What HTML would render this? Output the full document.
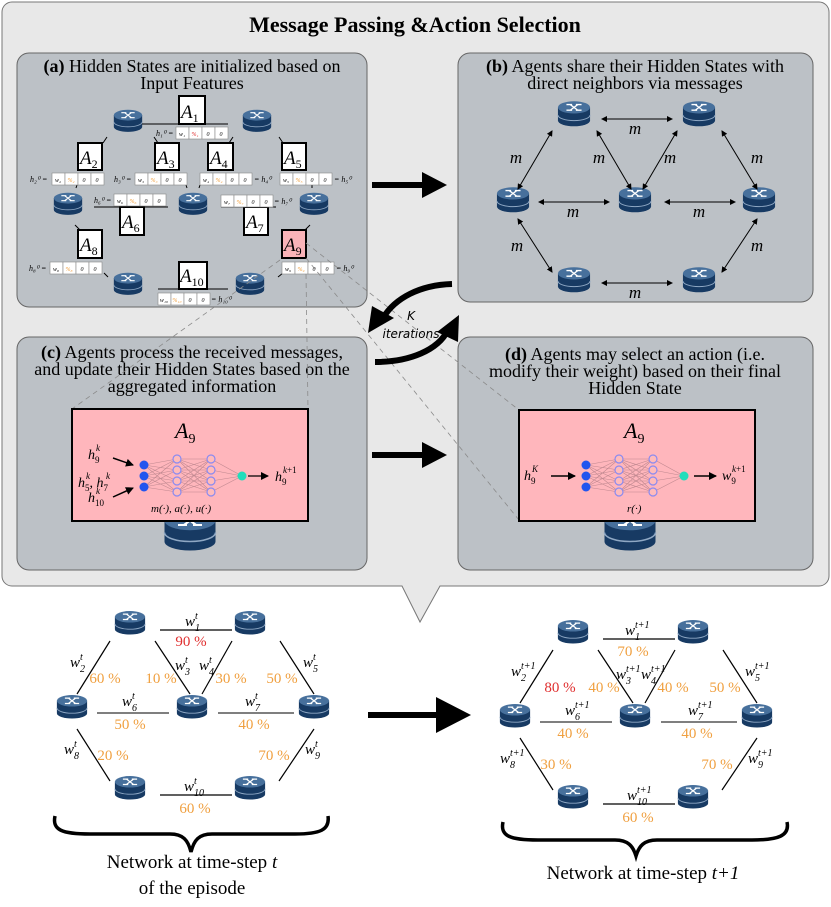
<!DOCTYPE html>
<html><head><meta charset="utf-8"><style>
html,body{margin:0;padding:0;background:#fff}
svg{display:block}
text{font-family:"Liberation Serif",serif}
.it{font-style:italic}
.or{fill:#f0a040}
.rd{fill:#e03030}
</style></head><body>
<svg width="831" height="907" viewBox="0 0 831 907" xmlns="http://www.w3.org/2000/svg">
<defs>
<symbol id="rt" viewBox="-18 -12 36 28" overflow="visible">
<path d="M-17,-5 L-17,9 A17,6 0 0 0 17,9 L17,-5 Z" fill="#173a63"/>
<path d="M-17,3 A17,6 0 0 0 17,3" fill="none" stroke="#8fa8c4" stroke-width="1"/>
<ellipse cx="0" cy="-5" rx="17" ry="6.5" fill="#47709c"/>
<g stroke="#fff" stroke-width="1.4" fill="none">
<path d="M-8,-8 L-2,-8 M-8,-2 L-2,-2 M2,-8 L8,-8 M2,-2 L8,-2 M-4,-2 L4,-8 M-4,-8 L4,-2"/>
</g>
</symbol>
<marker id="ah" markerWidth="6" markerHeight="6" refX="5" refY="3" orient="auto-start-reverse" markerUnits="userSpaceOnUse"><path d="M0,0 L6,3 L0,6 Z" fill="#000"/></marker>
<marker id="ahs" markerWidth="8" markerHeight="8" refX="7" refY="4" orient="auto" markerUnits="userSpaceOnUse"><path d="M0,0 L8,4 L0,8 Z" fill="#000"/></marker>
<g id="nn">
<g stroke="#c08890" stroke-width="0.6">
<path d="M0,-11 L33,-17 M0,-11 L33,-6 M0,-11 L33,5 M0,-11 L33,16 M0,0 L33,-17 M0,0 L33,-6 M0,0 L33,5 M0,0 L33,16 M0,11 L33,-17 M0,11 L33,-6 M0,11 L33,5 M0,11 L33,16"/>
<path d="M33,-17 L67,-17 M33,-17 L67,-6 M33,-17 L67,5 M33,-17 L67,16 M33,-6 L67,-17 M33,-6 L67,-6 M33,-6 L67,5 M33,-6 L67,16 M33,5 L67,-17 M33,5 L67,-6 M33,5 L67,5 M33,5 L67,16 M33,16 L67,-17 M33,16 L67,-6 M33,16 L67,5 M33,16 L67,16"/>
<path d="M67,-17 L98,0 M67,-6 L98,0 M67,5 L98,0 M67,16 L98,0"/>
</g>
<g fill="#2255ee"><circle cx="0" cy="-11" r="4.5"/><circle cx="0" cy="0" r="4.5"/><circle cx="0" cy="11" r="4.5"/></g>
<g fill="#fbb" stroke="#8a8af0" stroke-width="1.2"><circle cx="33" cy="-17" r="4"/><circle cx="33" cy="-6" r="4"/><circle cx="33" cy="5" r="4"/><circle cx="33" cy="16" r="4"/><circle cx="67" cy="-17" r="4"/><circle cx="67" cy="-6" r="4"/><circle cx="67" cy="5" r="4"/><circle cx="67" cy="16" r="4"/></g>
<circle cx="98" cy="0" r="4.5" fill="#22ddbb"/>
</g>
</defs>

<!-- callout -->
<path d="M12,2 H819 A10,10 0 0 1 829,12 V576 A10,10 0 0 1 819,586 H440 L420,622 L402,586 H12 A10,10 0 0 1 2,576 V12 A10,10 0 0 1 12,2 Z" fill="#e8e8e8" stroke="#777" stroke-width="1"/>
<text x="415" y="32" text-anchor="middle" font-size="22" font-weight="bold">Message Passing &amp;Action Selection</text>

<!-- panels -->
<rect x="17" y="53" width="350" height="254" rx="12" fill="#bcc1c6" stroke="#666"/>
<rect x="458" y="53" width="355" height="249" rx="12" fill="#bcc1c6" stroke="#666"/>
<rect x="17" y="337" width="350" height="233" rx="12" fill="#bcc1c6" stroke="#666"/>
<rect x="458" y="337" width="355" height="233" rx="12" fill="#bcc1c6" stroke="#666"/>

<g font-size="18">
<text x="192" y="72" text-anchor="middle"><tspan font-weight="bold">(a)</tspan> Hidden States are initialized based on</text>
<text x="192" y="89" text-anchor="middle">Input Features</text>
<text x="635" y="72" text-anchor="middle"><tspan font-weight="bold">(b)</tspan> Agents share their Hidden States with</text>
<text x="635" y="89" text-anchor="middle">direct neighbors via messages</text>
<text x="192" y="358" text-anchor="middle"><tspan font-weight="bold">(c)</tspan> Agents process the received messages,</text>
<text x="192" y="375" text-anchor="middle">and update their Hidden States based on the</text>
<text x="192" y="392" text-anchor="middle">aggregated information</text>
<text x="635" y="360" text-anchor="middle"><tspan font-weight="bold">(d)</tspan> Agents may select an action (i.e.</text>
<text x="635" y="377" text-anchor="middle">modify their weight) based on their final</text>
<text x="635" y="394" text-anchor="middle">Hidden State</text>
</g>

<!-- panel a -->
<g>
<use href="#rt" x="113" y="109" width="30" height="24"/>
<use href="#rt" x="242" y="109" width="30" height="24"/>
<use href="#rt" x="53" y="192" width="30" height="24"/>
<use href="#rt" x="178" y="192" width="30" height="24"/>
<use href="#rt" x="299" y="192" width="30" height="24"/>
<use href="#rt" x="113" y="272" width="30" height="24"/>
<use href="#rt" x="235" y="272" width="30" height="24"/>
<g stroke="#000" stroke-width="1"><path d="M142,124 H228 M94,207 H168 M221,207 H276 M158,289 H228 M107,137 L103,143 M154,137 L158,143 M233,137 L229,143 M279,137 L283,143 M77,185 L76,188 M186,185 L187,188 M200,185 L199,188 M312,185 L312,188 M75,225 L80,230 M310,225 L305,230 M104,273 L108,277 M283,273 L278,277"/></g>
<g fill="#fff" stroke="#000" stroke-width="2">
<rect x="179" y="96" width="26" height="28"/><rect x="78" y="143" width="24" height="27"/><rect x="155" y="143" width="24" height="27"/><rect x="208" y="143" width="25" height="27"/><rect x="282" y="143" width="24" height="27"/><rect x="120" y="207" width="24" height="28"/><rect x="244" y="207" width="24" height="28"/><rect x="78" y="230" width="24" height="28"/><rect x="282" y="230" width="24" height="28" fill="#f9b3b8"/><rect x="179" y="262" width="28" height="27"/>
</g>
<g font-size="19">
<text x="181" y="118"><tspan class="it">A</tspan><tspan font-size="12" dy="4">1</tspan></text>
<text x="80" y="164"><tspan class="it">A</tspan><tspan font-size="12" dy="4">2</tspan></text>
<text x="157" y="164"><tspan class="it">A</tspan><tspan font-size="12" dy="4">3</tspan></text>
<text x="210" y="164"><tspan class="it">A</tspan><tspan font-size="12" dy="4">4</tspan></text>
<text x="284" y="164"><tspan class="it">A</tspan><tspan font-size="12" dy="4">5</tspan></text>
<text x="122" y="228"><tspan class="it">A</tspan><tspan font-size="12" dy="4">6</tspan></text>
<text x="246" y="228"><tspan class="it">A</tspan><tspan font-size="12" dy="4">7</tspan></text>
<text x="80" y="251"><tspan class="it">A</tspan><tspan font-size="12" dy="4">8</tspan></text>
<text x="284" y="251"><tspan class="it">A</tspan><tspan font-size="12" dy="4">9</tspan></text>
<text x="180" y="282"><tspan class="it">A</tspan><tspan font-size="12" dy="4">10</tspan></text>
</g>
<!-- tables -->
<g fill="#fff" stroke="#888" stroke-width="0.6">
<rect x="176" y="127" width="13" height="12"/><rect x="189" y="127" width="13" height="12"/><rect x="202" y="127" width="13" height="12"/><rect x="215" y="127" width="13" height="12"/>
<rect x="52" y="173" width="13" height="12"/><rect x="65" y="173" width="13" height="12"/><rect x="78" y="173" width="13" height="12"/><rect x="91" y="173" width="13" height="12"/>
<rect x="135" y="173" width="13" height="12"/><rect x="148" y="173" width="13" height="12"/><rect x="161" y="173" width="13" height="12"/><rect x="174" y="173" width="13" height="12"/>
<rect x="200" y="173" width="13" height="12"/><rect x="213" y="173" width="13" height="12"/><rect x="226" y="173" width="13" height="12"/><rect x="239" y="173" width="13" height="12"/>
<rect x="280" y="173" width="13" height="12"/><rect x="293" y="173" width="13" height="12"/><rect x="306" y="173" width="13" height="12"/><rect x="319" y="173" width="13" height="12"/>
<rect x="114" y="194" width="13" height="12"/><rect x="127" y="194" width="13" height="12"/><rect x="140" y="194" width="13" height="12"/><rect x="153" y="194" width="13" height="12"/>
<rect x="221" y="195" width="13" height="12"/><rect x="234" y="195" width="13" height="12"/><rect x="247" y="195" width="13" height="12"/><rect x="260" y="195" width="13" height="12"/>
<rect x="50" y="262" width="13" height="12"/><rect x="63" y="262" width="13" height="12"/><rect x="76" y="262" width="13" height="12"/><rect x="89" y="262" width="13" height="12"/>
<rect x="282" y="262" width="13" height="12"/><rect x="295" y="262" width="13" height="12"/><rect x="308" y="262" width="13" height="12"/><rect x="321" y="262" width="13" height="12"/>
<rect x="158" y="293" width="13" height="12"/><rect x="171" y="293" width="13" height="12"/><rect x="184" y="293" width="13" height="12"/><rect x="197" y="293" width="13" height="12"/>
</g>
<g class="it" font-size="6" text-anchor="middle">
<text x="182" y="136">w₁</text><text x="195" y="136" class="rd">%₁</text><text x="208" y="136">0</text><text x="221" y="136">0</text>
<text x="58" y="182">w₂</text><text x="71" y="182" class="or">%₂</text><text x="84" y="182">0</text><text x="97" y="182">0</text>
<text x="141" y="182">w₃</text><text x="154" y="182" class="or">%₃</text><text x="167" y="182">0</text><text x="180" y="182">0</text>
<text x="206" y="182">w₄</text><text x="219" y="182" class="or">%₄</text><text x="232" y="182">0</text><text x="245" y="182">0</text>
<text x="286" y="182">w₅</text><text x="299" y="182" class="or">%₅</text><text x="312" y="182">0</text><text x="325" y="182">0</text>
<text x="120" y="203">w₆</text><text x="133" y="203" class="or">%₆</text><text x="146" y="203">0</text><text x="159" y="203">0</text>
<text x="227" y="204">w₇</text><text x="240" y="204" class="or">%₇</text><text x="253" y="204">0</text><text x="266" y="204">0</text>
<text x="56" y="271">w₈</text><text x="69" y="271" class="or">%₈</text><text x="82" y="271">0</text><text x="95" y="271">0</text>
<text x="288" y="271">w₉</text><text x="301" y="271" class="or">%₉</text><text x="314" y="271">0</text><text x="327" y="271">0</text>
<text x="164" y="302">w₁₀</text><text x="177" y="302" class="or">%₁₀</text><text x="190" y="302">0</text><text x="203" y="302">0</text>
</g>
<g class="it" font-size="8">
<text x="156" y="136">h₁⁰ =</text><text x="30" y="182">h₂⁰ =</text><text x="114" y="182">h₃⁰ =</text><text x="254" y="182">= h₄⁰</text><text x="334" y="182">= h₅⁰</text>
<text x="94" y="203">h₆⁰ =</text><text x="274" y="204">= h₇⁰</text><text x="29" y="271">h₈⁰ =</text><text x="336" y="271">= h₉⁰</text><text x="211" y="302">= h₁₀⁰</text>
</g>
</g>

<!-- dashed lines from A9 -->
<g stroke="#8a8a8a" stroke-width="0.8" stroke-dasharray="5,4" fill="none">
<path d="M306,243 L519,410"/><path d="M306,258 L519,520"/><path d="M280,260 L72,409"/><path d="M306,274 L308,409"/>
</g>

<!-- panel b -->
<g>
<use href="#rt" x="557" y="100" width="34" height="28"/>
<use href="#rt" x="682" y="100" width="34" height="28"/>
<use href="#rt" x="496" y="186" width="34" height="28"/>
<use href="#rt" x="618" y="186" width="34" height="28"/>
<use href="#rt" x="742" y="186" width="34" height="28"/>
<use href="#rt" x="557" y="266" width="34" height="28"/>
<use href="#rt" x="682" y="266" width="34" height="28"/>
<g stroke="#000" stroke-width="1" marker-start="url(#ah)" marker-end="url(#ah)">
<line x1="602" y1="119" x2="672" y2="119"/>
<line x1="552" y1="131" x2="518" y2="189"/>
<line x1="597" y1="131" x2="631" y2="189"/>
<line x1="677" y1="131" x2="643" y2="189"/>
<line x1="722" y1="131" x2="757" y2="189"/>
<line x1="539" y1="202" x2="609" y2="202"/>
<line x1="665" y1="202" x2="735" y2="202"/>
<line x1="518" y1="219" x2="552" y2="272"/>
<line x1="757" y1="219" x2="722" y2="272"/>
<line x1="602" y1="283" x2="672" y2="283"/>
</g>
<g class="it" font-size="17" text-anchor="middle">
<text x="635" y="134">m</text><text x="516" y="163">m</text><text x="599" y="163">m</text><text x="670" y="163">m</text><text x="757" y="163">m</text>
<text x="573" y="217">m</text><text x="699" y="217">m</text><text x="517" y="251">m</text><text x="757" y="251">m</text><text x="635" y="298">m</text>
</g>
</g>

<!-- big arrows -->
<g stroke="#000" stroke-width="6"><line x1="372" y1="185" x2="425" y2="185"/><line x1="372" y1="455" x2="425" y2="455"/><line x1="368" y1="715" x2="440" y2="715"/></g>
<path d="M422,172 L447,185 L422,198 Z"/><path d="M422,442 L447,455 L422,468 Z"/><path d="M436,697 L471,715 L436,733 Z"/>

<!-- K iterations -->
<path d="M452,284 C420,285 395,298 383,318" fill="none" stroke="#000" stroke-width="6"/>
<path d="M368,333 L372,306 L394,318 Z"/>
<path d="M375,362 C410,362 438,350 448,330" fill="none" stroke="#000" stroke-width="6"/>
<path d="M459,315 L458,342 L437,332 Z"/>
<text x="411" y="320" text-anchor="middle" font-style="italic" font-size="12" style="font-family:'DejaVu Sans',sans-serif">K</text>
<text x="411" y="338" text-anchor="middle" font-style="italic" font-size="12" style="font-family:'DejaVu Sans',sans-serif">iterations</text>

<!-- panel c -->
<use href="#rt" x="163" y="510" width="54" height="42"/>
<rect x="72" y="409" width="236" height="112" fill="#ffb6bc" stroke="#000" stroke-width="2"/>
<text x="175" y="438" font-size="22"><tspan class="it">A</tspan><tspan font-size="14" dy="5">9</tspan></text>
<use href="#nn" transform="translate(144,476)"/>
<line x1="248" y1="476" x2="268" y2="476" stroke="#000" stroke-width="1.2" marker-end="url(#ahs)"/>
<line x1="113" y1="458" x2="133" y2="465" stroke="#000" stroke-width="1.5" marker-end="url(#ahs)"/>
<line x1="113" y1="497" x2="133" y2="488" stroke="#000" stroke-width="1.5" marker-end="url(#ahs)"/>
<g font-size="14">
<text x="88" y="459"><tspan class="it">h</tspan><tspan font-size="9" dy="4">9</tspan></text><text x="96" y="451" class="it" font-size="9">k</text>
<text x="78" y="487"><tspan class="it">h</tspan><tspan font-size="9" dy="4">5</tspan><tspan dy="-4">, </tspan><tspan class="it">h</tspan><tspan font-size="9" dy="4">7</tspan></text>
<text x="86" y="479" class="it" font-size="9">k</text><text x="106" y="479" class="it" font-size="9">k</text>
<text x="88" y="502"><tspan class="it">h</tspan><tspan font-size="9" dy="4">10</tspan></text><text x="96" y="494" class="it" font-size="9">k</text>
<text x="275" y="481"><tspan class="it">h</tspan><tspan font-size="9" dy="4">9</tspan></text><text x="283" y="473" font-size="9"><tspan class="it">k</tspan>+1</text>
<text x="151" y="512" font-size="11" class="it">m(·), a(·), u(·)</text>
</g>

<!-- panel d -->
<use href="#rt" x="603" y="510" width="54" height="42"/>
<rect x="519" y="410" width="236" height="111" fill="#ffb6bc" stroke="#000" stroke-width="2"/>
<text x="624" y="438" font-size="22"><tspan class="it">A</tspan><tspan font-size="14" dy="5">9</tspan></text>
<use href="#nn" transform="translate(586,476)"/>
<line x1="551" y1="476" x2="575" y2="476" stroke="#000" stroke-width="1.5" marker-end="url(#ahs)"/>
<line x1="694" y1="476" x2="716" y2="476" stroke="#000" stroke-width="1.5" marker-end="url(#ahs)"/>
<g font-size="14">
<text x="524" y="480"><tspan class="it">h</tspan><tspan font-size="9" dy="4">9</tspan></text><text x="532" y="472" class="it" font-size="9">K</text>
<text x="722" y="480"><tspan class="it">w</tspan><tspan font-size="9" dy="4">9</tspan></text><text x="732" y="472" font-size="9"><tspan class="it">k</tspan>+1</text>
<text x="627" y="512" font-size="11" class="it">r(·)</text>
</g>

<!-- right network (t+1) -->
<g id="netR">
<g stroke="#000" stroke-width="1.2">
<line x1="603" y1="639" x2="675" y2="639"/>
<line x1="553" y1="650" x2="520" y2="703"/>
<line x1="598" y1="650" x2="633" y2="703"/>
<line x1="675" y1="650" x2="645" y2="703"/>
<line x1="723" y1="650" x2="757" y2="703"/>
<line x1="540" y1="722" x2="612" y2="722" stroke="#555" stroke-width="1.5"/>
<line x1="661" y1="722" x2="737" y2="722" stroke="#555" stroke-width="1.5"/>
<line x1="520" y1="738" x2="553" y2="790"/>
<line x1="757" y1="738" x2="722" y2="790"/>
<line x1="603" y1="804" x2="675" y2="804"/>
</g>
<use href="#rt" x="557" y="618" width="32" height="28"/>
<use href="#rt" x="677" y="618" width="32" height="28"/>
<use href="#rt" x="499" y="702" width="32" height="28"/>
<use href="#rt" x="619" y="702" width="32" height="28"/>
<use href="#rt" x="741" y="702" width="32" height="28"/>
<use href="#rt" x="557" y="783" width="32" height="28"/>
<use href="#rt" x="677" y="783" width="32" height="28"/>
</g>
<g font-size="15">
<text x="625" y="635" class="it">w<tspan font-size="10" dy="5">1</tspan><tspan font-size="10" dx="-5" dy="-12">t+1</tspan></text>
<text x="633" y="656" text-anchor="middle" class="or">70 %</text>
<text x="511" y="676" class="it">w<tspan font-size="10" dy="5">2</tspan><tspan font-size="10" dx="-5" dy="-12">t+1</tspan></text>
<text x="560" y="692" text-anchor="middle" class="rd">80 %</text>
<text x="604" y="692" text-anchor="middle" class="or">40 %</text>
<text x="616" y="679" class="it">w<tspan font-size="10" dy="5">3</tspan><tspan font-size="10" dx="-5" dy="-12">t+1</tspan></text>
<text x="641" y="679" class="it">w<tspan font-size="10" dy="5">4</tspan><tspan font-size="10" dx="-5" dy="-12">t+1</tspan></text>
<text x="673" y="692" text-anchor="middle" class="or">40 %</text>
<text x="725" y="692" text-anchor="middle" class="or">50 %</text>
<text x="745" y="676" class="it">w<tspan font-size="10" dy="5">5</tspan><tspan font-size="10" dx="-5" dy="-12">t+1</tspan></text>
<text x="565" y="715" class="it">w<tspan font-size="10" dy="5">6</tspan><tspan font-size="10" dx="-5" dy="-12">t+1</tspan></text>
<text x="573" y="738" text-anchor="middle" class="or">40 %</text>
<text x="688" y="715" class="it">w<tspan font-size="10" dy="5">7</tspan><tspan font-size="10" dx="-5" dy="-12">t+1</tspan></text>
<text x="697" y="738" text-anchor="middle" class="or">40 %</text>
<text x="500" y="763" class="it">w<tspan font-size="10" dy="5">8</tspan><tspan font-size="10" dx="-5" dy="-12">t+1</tspan></text>
<text x="556" y="769" text-anchor="middle" class="or">30 %</text>
<text x="717" y="769" text-anchor="middle" class="or">70 %</text>
<text x="748" y="763" class="it">w<tspan font-size="10" dy="5">9</tspan><tspan font-size="10" dx="-5" dy="-12">t+1</tspan></text>
<text x="627" y="800" class="it">w<tspan font-size="10" dy="5">10</tspan><tspan font-size="10" dx="-10" dy="-12">t+1</tspan></text>
<text x="638" y="822" text-anchor="middle" class="or">60 %</text>
</g>

<!-- left network (t) -->
<g transform="translate(-443,-9)">
<use href="#netR"/>
</g>
<g font-size="15">
<text x="185" y="626" class="it">w<tspan font-size="10" dy="5">1</tspan><tspan font-size="10" dx="-5" dy="-12">t</tspan></text>
<text x="191" y="646" text-anchor="middle" class="rd">90 %</text>
<text x="70" y="667" class="it">w<tspan font-size="10" dy="5">2</tspan><tspan font-size="10" dx="-5" dy="-12">t</tspan></text>
<text x="105" y="683" text-anchor="middle" class="or">60 %</text>
<text x="161" y="683" text-anchor="middle" class="or">10 %</text>
<text x="175" y="670" class="it">w<tspan font-size="10" dy="5">3</tspan><tspan font-size="10" dx="-5" dy="-12">t</tspan></text>
<text x="199" y="670" class="it">w<tspan font-size="10" dy="5">4</tspan><tspan font-size="10" dx="-5" dy="-12">t</tspan></text>
<text x="231" y="683" text-anchor="middle" class="or">30 %</text>
<text x="282" y="683" text-anchor="middle" class="or">50 %</text>
<text x="303" y="667" class="it">w<tspan font-size="10" dy="5">5</tspan><tspan font-size="10" dx="-5" dy="-12">t</tspan></text>
<text x="122" y="706" class="it">w<tspan font-size="10" dy="5">6</tspan><tspan font-size="10" dx="-5" dy="-12">t</tspan></text>
<text x="130" y="729" text-anchor="middle" class="or">50 %</text>
<text x="245" y="706" class="it">w<tspan font-size="10" dy="5">7</tspan><tspan font-size="10" dx="-5" dy="-12">t</tspan></text>
<text x="254" y="729" text-anchor="middle" class="or">40 %</text>
<text x="64" y="754" class="it">w<tspan font-size="10" dy="5">8</tspan><tspan font-size="10" dx="-5" dy="-12">t</tspan></text>
<text x="113" y="760" text-anchor="middle" class="or">20 %</text>
<text x="274" y="760" text-anchor="middle" class="or">70 %</text>
<text x="305" y="754" class="it">w<tspan font-size="10" dy="5">9</tspan><tspan font-size="10" dx="-5" dy="-12">t</tspan></text>
<text x="184" y="791" class="it">w<tspan font-size="10" dy="5">10</tspan><tspan font-size="10" dx="-10" dy="-12">t</tspan></text>
<text x="195" y="813" text-anchor="middle" class="or">60 %</text>
</g>

<!-- braces -->
<path d="M55,816 C52,830 62,834 90,834 L170,834 C183,834 188,840 191,852 C194,840 199,834 212,834 L295,834 C320,834 330,830 328,816" fill="none" stroke="#000" stroke-width="3.5"/>
<path d="M503,822 C500,836 510,840 538,840 L615,840 C628,840 633,846 636,856 C639,846 644,840 657,840 L752,840 C778,840 790,836 787,822" fill="none" stroke="#000" stroke-width="3.5"/>
<text x="192" y="868" text-anchor="middle" font-size="19">Network at time-step <tspan class="it">t</tspan></text>
<text x="192" y="894" text-anchor="middle" font-size="19">of the episode</text>
<text x="643" y="879" text-anchor="middle" font-size="19">Network at time-step <tspan class="it">t+1</tspan></text>
</svg>
</body></html>
